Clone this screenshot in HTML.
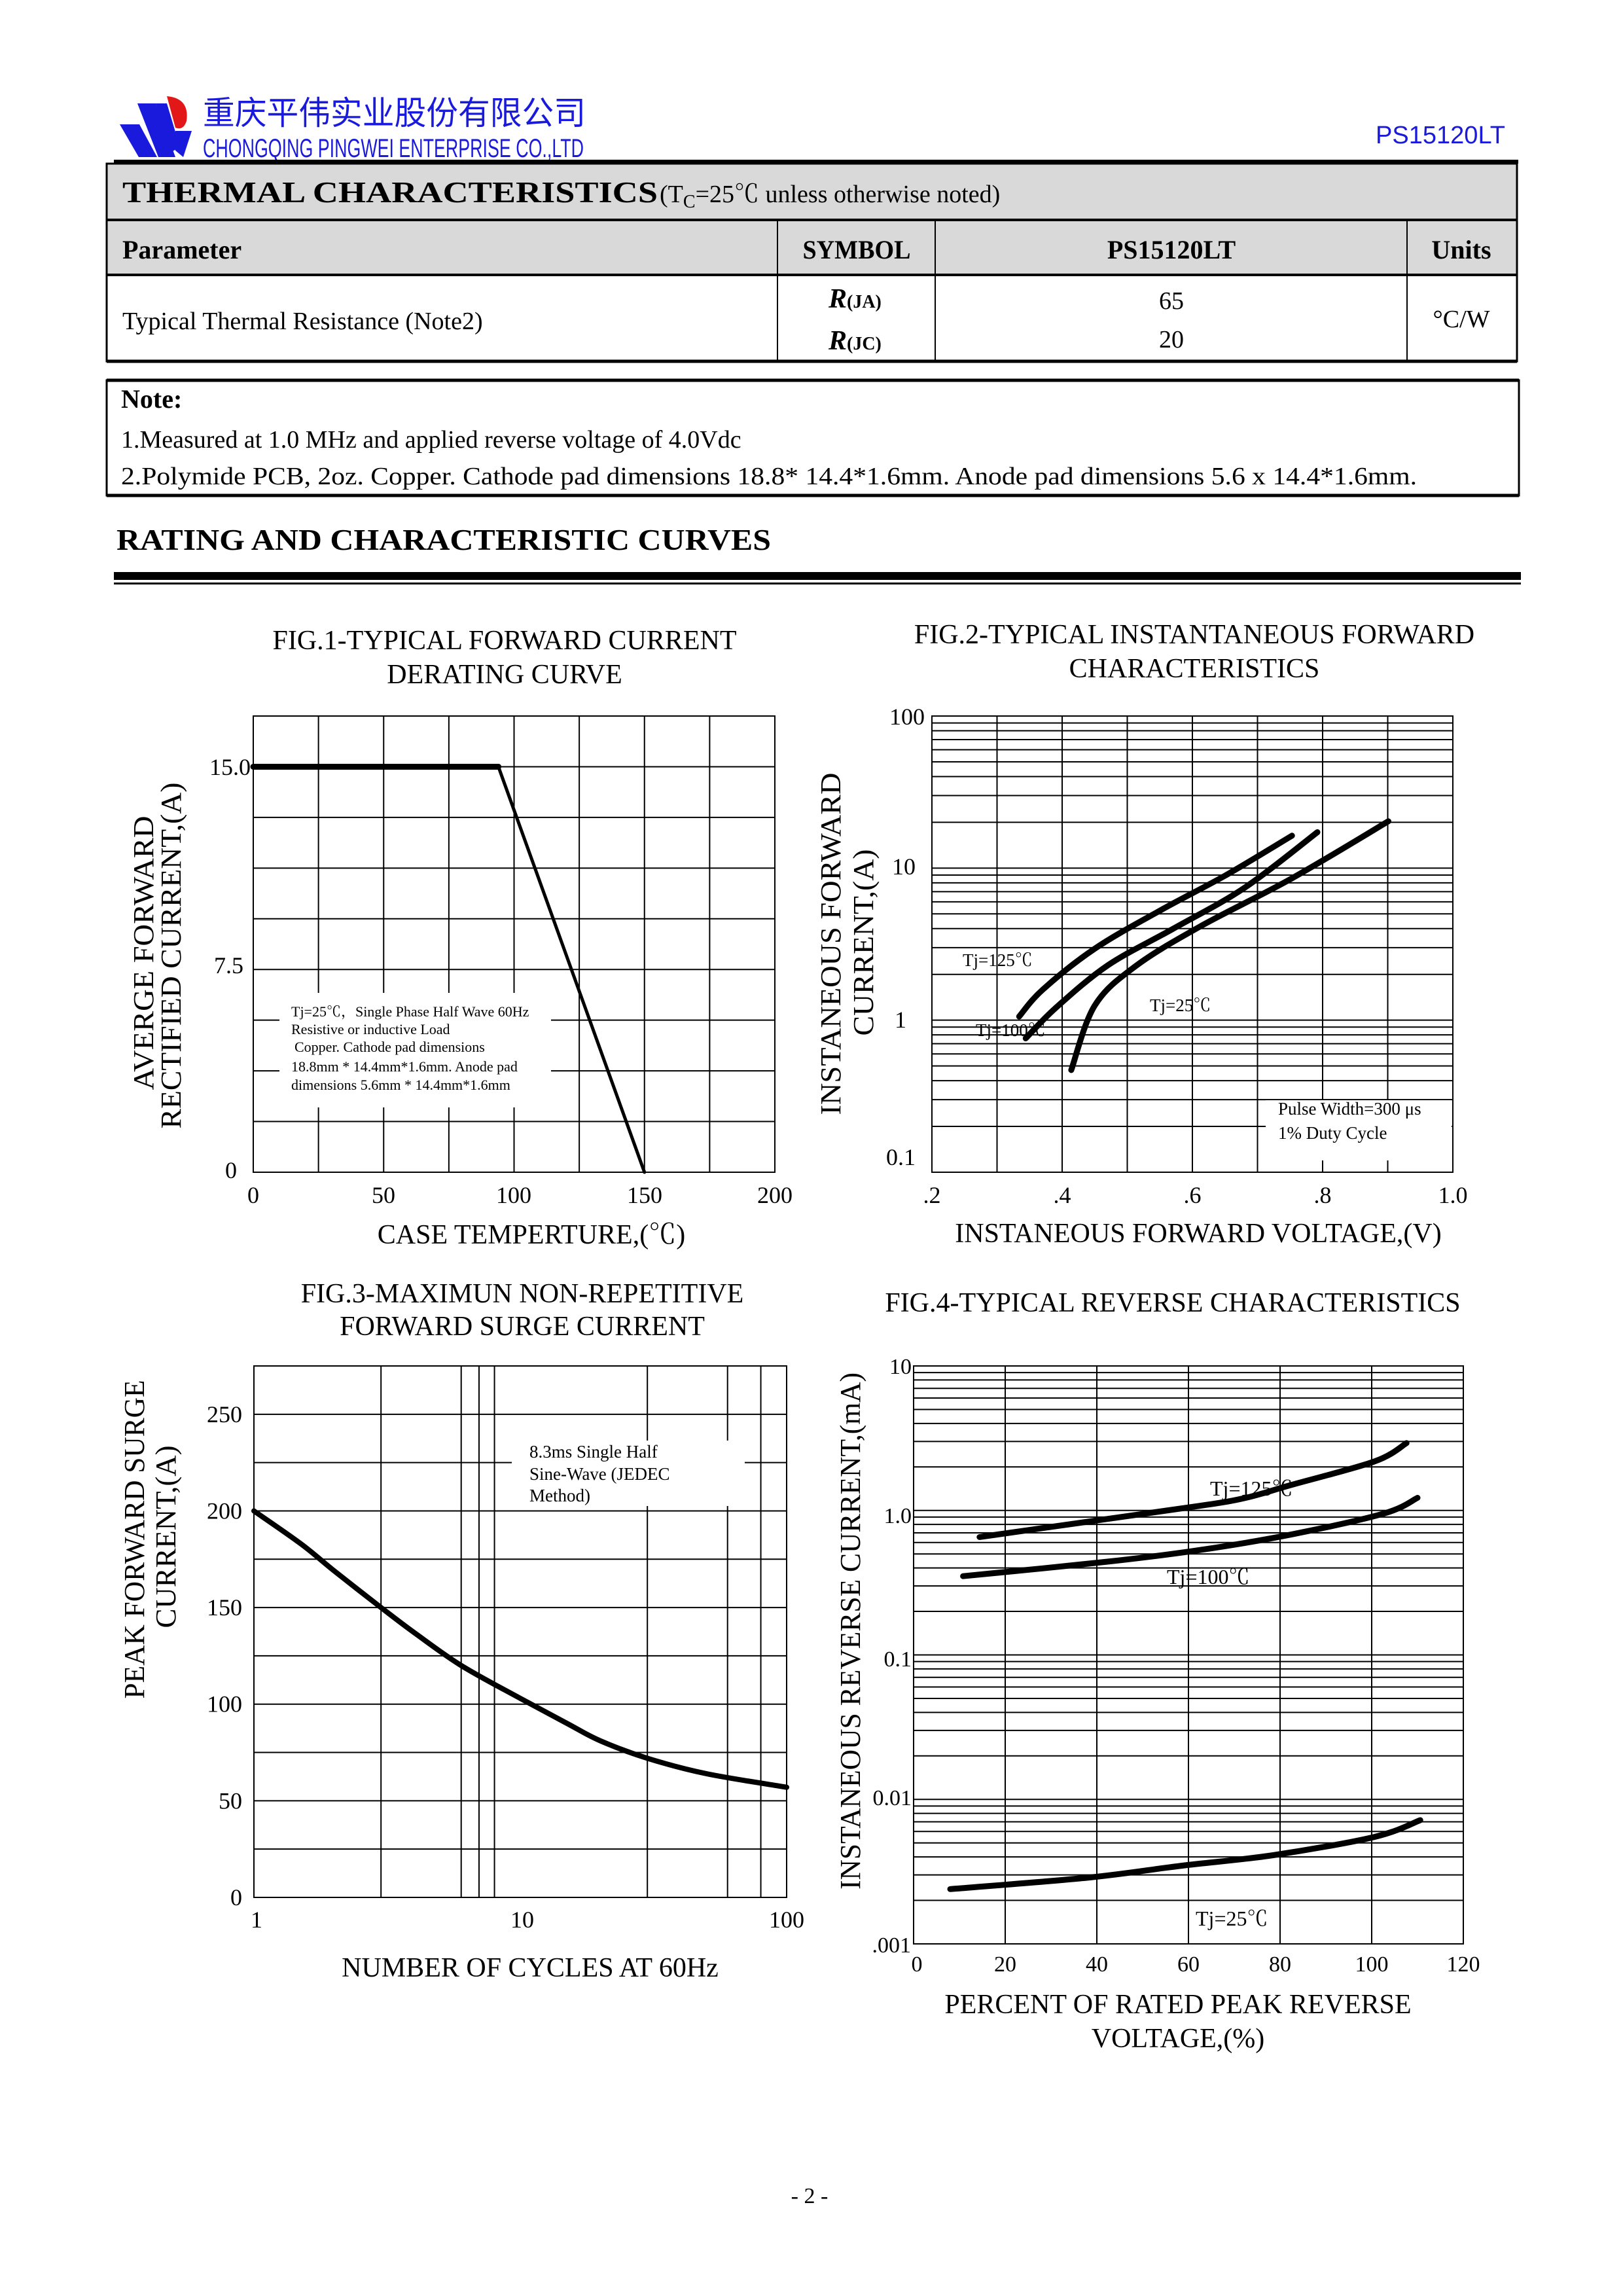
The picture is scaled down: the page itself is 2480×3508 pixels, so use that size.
<!DOCTYPE html>
<html><head><meta charset="utf-8"><style>
html,body{margin:0;padding:0;background:#fff;}
svg{display:block;}
text{font-family:"Liberation Serif","Noto Serif CJK SC",serif;fill:#000;}
.s{font-family:"Liberation Sans","Noto Sans CJK SC",sans-serif;}
</style></head><body>
<svg id="pg" xmlns="http://www.w3.org/2000/svg" width="2480" height="3508" viewBox="0 0 2480 3508">
<rect width="2480" height="3508" fill="#fff"/>
<!-- logo -->
<polygon points="183,190 213,190 240,240 212,240" fill="#1a1adc"/>
<polygon points="210,158 238,158 268,240 242,240" fill="#1a1adc"/>
<polygon points="238,158 255,158 275,225 262,232" fill="#1a1adc"/>
<path d="M255,147 Q290,150 285,185 Q280,200 268,195 Z" fill="#e21818"/>
<polygon points="268,200 293,200 280,240 268,230" fill="#1a1adc"/>
<text x="310" y="190" class="s" font-size="50" style="fill:#1a1adc" textLength="585" lengthAdjust="spacingAndGlyphs">重庆平伟实业股份有限公司</text>
<text x="310" y="240" class="s" font-size="40" style="fill:#1a1adc" textLength="582" lengthAdjust="spacingAndGlyphs">CHONGQING PINGWEI ENTERPRISE CO.,LTD</text>
<text x="2102" y="219" class="s" font-size="38" style="fill:#1a1adc" textLength="198" lengthAdjust="spacingAndGlyphs">PS15120LT</text>
<rect x="174" y="244" width="2146" height="6" fill="#000"/>
<!-- table -->
<rect x="163" y="250" width="2155" height="170" fill="#d9d9d9"/>
<rect x="163" y="250" width="2155" height="302" fill="none" stroke="#000" stroke-width="3"/>
<line x1="163" y1="336" x2="2318" y2="336" stroke="#000" stroke-width="4"/>
<line x1="163" y1="420" x2="2318" y2="420" stroke="#000" stroke-width="4"/>
<line x1="1188" y1="336" x2="1188" y2="552" stroke="#000" stroke-width="2"/>
<line x1="1429" y1="336" x2="1429" y2="552" stroke="#000" stroke-width="2"/>
<line x1="2150" y1="336" x2="2150" y2="552" stroke="#000" stroke-width="2"/>
<line x1="163" y1="552" x2="2318" y2="552" stroke="#000" stroke-width="5"/>
<text x="187" y="309" font-size="46" font-weight="bold" textLength="818" lengthAdjust="spacingAndGlyphs">THERMAL CHARACTERISTICS</text>
<text x="1008" y="309" font-size="38">(T<tspan font-size="28" dy="8">C</tspan><tspan dy="-8">=25℃ unless otherwise noted)</tspan></text>
<text x="187" y="395" font-size="40" font-weight="bold">Parameter</text>
<text x="1309" y="395" font-size="40" font-weight="bold" text-anchor="middle" textLength="165" lengthAdjust="spacingAndGlyphs">SYMBOL</text>
<text x="1790" y="395" font-size="40" font-weight="bold" text-anchor="middle">PS15120LT</text>
<text x="2233" y="395" font-size="40" font-weight="bold" text-anchor="middle">Units</text>
<text x="187" y="503" font-size="38">Typical Thermal Resistance (Note2)</text>
<text x="1266" y="470" font-size="42" font-weight="bold" font-style="italic">R<tspan font-size="28" font-style="normal">(JA)</tspan></text>
<text x="1266" y="534" font-size="42" font-weight="bold" font-style="italic">R<tspan font-size="28" font-style="normal">(JC)</tspan></text>
<text x="1790" y="472" font-size="38" text-anchor="middle">65</text>
<text x="1790" y="531" font-size="38" text-anchor="middle">20</text>
<text x="2233" y="500" font-size="38" text-anchor="middle">°C/W</text>
<!-- note -->
<rect x="163" y="581" width="2158" height="176" fill="none" stroke="#000" stroke-width="3"/>
<line x1="163" y1="581" x2="2321" y2="581" stroke="#000" stroke-width="5"/>
<line x1="163" y1="757" x2="2321" y2="757" stroke="#000" stroke-width="5"/>
<text x="185" y="623" font-size="40" font-weight="bold">Note:</text>
<text x="185" y="684" font-size="38">1.Measured at 1.0 MHz and applied reverse voltage of 4.0Vdc</text>
<text x="185" y="740" font-size="38" textLength="1980" lengthAdjust="spacingAndGlyphs">2.Polymide PCB, 2oz. Copper. Cathode pad dimensions 18.8* 14.4*1.6mm. Anode pad dimensions 5.6 x 14.4*1.6mm.</text>
<text x="178" y="840" font-size="46" font-weight="bold" textLength="1000" lengthAdjust="spacingAndGlyphs">RATING AND CHARACTERISTIC CURVES</text>
<rect x="174" y="874" width="2150" height="12" fill="#000"/>
<rect x="174" y="890" width="2150" height="3" fill="#000"/>

<g id="grid" stroke="#000" stroke-width="2" fill="none"></g>
<g id="whites" fill="#fff"></g>
<g id="curves" stroke="#000" fill="none" stroke-linecap="round" stroke-linejoin="round"></g>

<!-- Fig1 text -->
<text x="771" y="992" font-size="42" text-anchor="middle">FIG.1-TYPICAL FORWARD CURRENT</text>
<text x="771" y="1044" font-size="42" text-anchor="middle">DERATING CURVE</text>
<g font-size="36" text-anchor="end">
<text x="383" y="1184">15.0</text><text x="372" y="1487">7.5</text><text x="362" y="1800">0</text></g>
<g font-size="36" text-anchor="middle">
<text x="387" y="1838">0</text><text x="586" y="1838">50</text><text x="785" y="1838">100</text><text x="985" y="1838">150</text><text x="1184" y="1838">200</text></g>
<text x="812" y="1900" font-size="42" text-anchor="middle">CASE TEMPERTURE,(℃)</text>
<text transform="translate(234,1456) rotate(-90)" font-size="44" text-anchor="middle" textLength="419" lengthAdjust="spacingAndGlyphs">AVERGE FORWARD</text>
<text transform="translate(276,1460) rotate(-90)" font-size="44" text-anchor="middle" textLength="529" lengthAdjust="spacingAndGlyphs">RECTIFIED CURRENT,(A)</text>
<g font-size="22">
<text x="445" y="1553">Tj=25℃，Single Phase Half Wave 60Hz</text>
<text x="445" y="1580">Resistive or inductive Load</text>
<text x="450" y="1607">Copper. Cathode pad dimensions</text>
<text x="445" y="1637">18.8mm * 14.4mm*1.6mm. Anode pad</text>
<text x="445" y="1665">dimensions 5.6mm * 14.4mm*1.6mm</text></g>

<!-- Fig2 text -->
<text x="1825" y="983" font-size="42" text-anchor="middle">FIG.2-TYPICAL INSTANTANEOUS FORWARD</text>
<text x="1825" y="1035" font-size="42" text-anchor="middle">CHARACTERISTICS</text>
<g font-size="36" text-anchor="end">
<text x="1413" y="1107">100</text><text x="1399" y="1336">10</text><text x="1385" y="1570">1</text><text x="1399" y="1780">0.1</text></g>
<g font-size="36" text-anchor="middle">
<text x="1424" y="1838">.2</text><text x="1623" y="1838">.4</text><text x="1822" y="1838">.6</text><text x="2021" y="1838">.8</text><text x="2220" y="1838">1.0</text></g>
<text x="1831" y="1898" font-size="42" text-anchor="middle">INSTANEOUS FORWARD VOLTAGE,(V)</text>
<text transform="translate(1284,1442) rotate(-90)" font-size="44" text-anchor="middle" textLength="523" lengthAdjust="spacingAndGlyphs">INSTANEOUS FORWARD</text>
<text transform="translate(1334,1440) rotate(-90)" font-size="44" text-anchor="middle" textLength="285" lengthAdjust="spacingAndGlyphs">CURRENT,(A)</text>
<g font-size="27">
<text x="1471" y="1476">Tj=125℃</text><text x="1491" y="1583">Tj=100℃</text><text x="1757" y="1545">Tj=25℃</text>
<text x="1953" y="1703">Pulse Width=300 μs</text><text x="1953" y="1740">1% Duty Cycle</text></g>

<!-- Fig3 text -->
<text x="798" y="1990" font-size="42" text-anchor="middle">FIG.3-MAXIMUN NON-REPETITIVE</text>
<text x="798" y="2040" font-size="42" text-anchor="middle">FORWARD SURGE CURRENT</text>
<g font-size="36" text-anchor="end" id="f3y"></g>
<g font-size="36" text-anchor="middle">
<text x="392" y="2945">1</text><text x="798" y="2945">10</text><text x="1202" y="2945">100</text></g>
<text x="810" y="3020" font-size="42" text-anchor="middle">NUMBER OF CYCLES AT 60Hz</text>
<text transform="translate(220,2352) rotate(-90)" font-size="44" text-anchor="middle" textLength="487" lengthAdjust="spacingAndGlyphs">PEAK FORWARD SURGE</text>
<text transform="translate(268,2348) rotate(-90)" font-size="44" text-anchor="middle" textLength="279" lengthAdjust="spacingAndGlyphs">CURRENT,(A)</text>
<g font-size="27">
<text x="809" y="2227">8.3ms Single Half</text><text x="809" y="2261">Sine-Wave (JEDEC</text><text x="809" y="2294">Method)</text></g>

<!-- Fig4 text -->
<text x="1792" y="2004" font-size="42" text-anchor="middle">FIG.4-TYPICAL REVERSE CHARACTERISTICS</text>
<g font-size="34" text-anchor="end">
<text x="1393" y="2099">10</text><text x="1393" y="2327">1.0</text><text x="1393" y="2546">0.1</text><text x="1393" y="2758">0.01</text><text x="1392" y="2983">.001</text></g>
<g font-size="34" text-anchor="middle">
<text x="1401" y="3012">0</text><text x="1536" y="3012">20</text><text x="1676" y="3012">40</text><text x="1816" y="3012">60</text><text x="1956" y="3012">80</text><text x="2096" y="3012">100</text><text x="2236" y="3012">120</text></g>
<text x="1800" y="3076" font-size="42" text-anchor="middle">PERCENT OF RATED PEAK REVERSE</text>
<text x="1800" y="3128" font-size="42" text-anchor="middle">VOLTAGE,(%)</text>
<text transform="translate(1314,2492) rotate(-90)" font-size="44" text-anchor="middle" textLength="790" lengthAdjust="spacingAndGlyphs">INSTANEOUS REVERSE CURRENT,(mA)</text>
<g font-size="32">
<text x="1849" y="2285">Tj=125℃</text><text x="1783" y="2420">Tj=100℃</text><text x="1827" y="2942">Tj=25℃</text></g>

<text x="1237" y="3366" font-size="34" text-anchor="middle">- 2 -</text>
</svg>
<script>
(function(){
var NS="http://www.w3.org/2000/svg";
var G=document.getElementById('grid'),C=document.getElementById('curves'),W=document.getElementById('whites');
function el(p,t,a){var e=document.createElementNS(NS,t);for(var k in a)e.setAttribute(k,a[k]);p.appendChild(e);return e;}
function L(x1,y1,x2,y2){el(G,'line',{x1:x1,y1:y1,x2:x2,y2:y2});}
function R(x,y,w,h){el(G,'rect',{x:x,y:y,width:w,height:h});}
function path(pts,w){var d='M'+pts[0][0].toFixed(1)+','+pts[0][1].toFixed(1);
 for(var i=0;i<pts.length-1;i++){var p0=pts[i-1]||pts[i],p1=pts[i],p2=pts[i+1],p3=pts[i+2]||p2;
  var c1=[p1[0]+(p2[0]-p0[0])/6,p1[1]+(p2[1]-p0[1])/6],c2=[p2[0]-(p3[0]-p1[0])/6,p2[1]-(p3[1]-p1[1])/6];
  d+=' C'+c1[0].toFixed(1)+','+c1[1].toFixed(1)+' '+c2[0].toFixed(1)+','+c2[1].toFixed(1)+' '+p2[0].toFixed(1)+','+p2[1].toFixed(1);}
 el(C,'path',{d:d,'stroke-width':w});}
var lg=Math.log10;
// Fig1
var a={x0:387,x1:1184,y0:1094,y1:1791};
R(a.x0,a.y0,a.x1-a.x0,a.y1-a.y0);
for(var i=1;i<8;i++){var x=a.x0+i*(a.x1-a.x0)/8;L(x,a.y0,x,a.y1);}
for(var i=1;i<9;i++){var y=a.y0+i*(a.y1-a.y0)/9;L(a.x0,y,a.x1,y);}
el(W,'rect',{x:427,y:1517,width:415,height:175});
function p1x(v){return a.x0+v/200*(a.x1-a.x0);} function p1y(v){return a.y1-v/16.875*(a.y1-a.y0);}
el(C,'line',{x1:p1x(0),y1:p1y(15),x2:p1x(94),y2:p1y(15),'stroke-width':9});
el(C,'line',{x1:p1x(94),y1:p1y(15),x2:p1x(150),y2:p1y(0),'stroke-width':5});
// Fig2
var b={x0:1424,x1:2220,y0:1094,y1:1791};
R(b.x0,b.y0,b.x1-b.x0,b.y1-b.y0);
function p2x(v){return b.x0+(v-.2)/.8*(b.x1-b.x0);} function p2y(I){return b.y1-(lg(I)+1)/3*(b.y1-b.y0);}
for(var v=.3;v<.95;v+=.1)L(p2x(v),b.y0,p2x(v),b.y1);
[0.1,1,10].forEach(function(d){for(var k=2;k<=10;k++){var y=p2y(d*k);if(k<10||d<10)L(b.x0,y,b.x1,y);}});
el(W,'rect',{x:1934,y:1681,width:284,height:92});
function P2(arr){return arr.map(function(q){return [p2x(q[0]),p2y(Math.pow(10,q[1]))];});}
path(P2([[.334,.024],[.37,.2],[.45,.47],[.55,.72],[.65,.95],[.753,1.213]]),9);
path(P2([[.344,-.12],[.39,.08],[.47,.36],[.57,.6],[.68,.87],[.792,1.236]]),9);
path(P2([[.414,-.328],[.45,.096],[.513,.356],[.612,.616],[.753,.933],[.901,1.308]]),9);
// Fig3
var c={x0:388,x1:1202,y0:2087,y1:2899};
R(c.x0,c.y0,c.x1-c.x0,c.y1-c.y0);
function p3x(n){return c.x0+lg(n)/2*(c.x1-c.x0);} function p3y(v){return c.y1-v/275*(c.y1-c.y0);}
[3,6,7,8,30,60,80].forEach(function(n){L(p3x(n),c.y0,p3x(n),c.y1);});
var f3=document.getElementById('f3y');
for(var v=25;v<=250;v+=25)L(c.x0,p3y(v),c.x1,p3y(v));
[0,50,100,150,200,250].forEach(function(v){var t=el(f3,'text',{x:370,y:p3y(v)+12});t.textContent=v;});
el(W,'rect',{x:782,y:2201,width:356,height:100});
path([[1,200],[1.5,183],[2,169],[3,150],[4,137],[6,120],[10,103],[15,90],[20,81],[30,72],[50,64],[100,57]].map(function(q){return [p3x(q[0]),p3y(q[1])];}),8);
// Fig4
var d={x0:1396,x1:2236,y0:2087,y1:2970};
R(d.x0,d.y0,d.x1-d.x0,d.y1-d.y0);
function p4x(p){return d.x0+p/120*(d.x1-d.x0);} function p4y(I){return d.y1-(lg(I)+3)/4*(d.y1-d.y0);}
for(var p=20;p<120;p+=20)L(p4x(p),d.y0,p4x(p),d.y1);
[0.001,0.01,0.1,1].forEach(function(dd){for(var k=2;k<=10;k++)L(d.x0,p4y(dd*k),d.x1,p4y(dd*k));});
function P4(arr){return arr.map(function(q){return [p4x(q[0]),p4y(Math.pow(10,q[1]))];});}
path(P4([[14.4,-.184],[42.5,-.058],[62.5,.032],[72.5,.087],[82.5,.177],[100.6,.339],[107.6,.466]]),9);
path(P4([[10.8,-.455],[42.5,-.354],[62.5,-.274],[82.5,-.166],[102.6,-.022],[110,.087]]),9);
path(P4([[8,-2.621],[38.5,-2.54],[58.5,-2.459],[78.5,-2.386],[100.6,-2.26],[110.6,-2.144]]),9);
})();
</script>
</body></html>
